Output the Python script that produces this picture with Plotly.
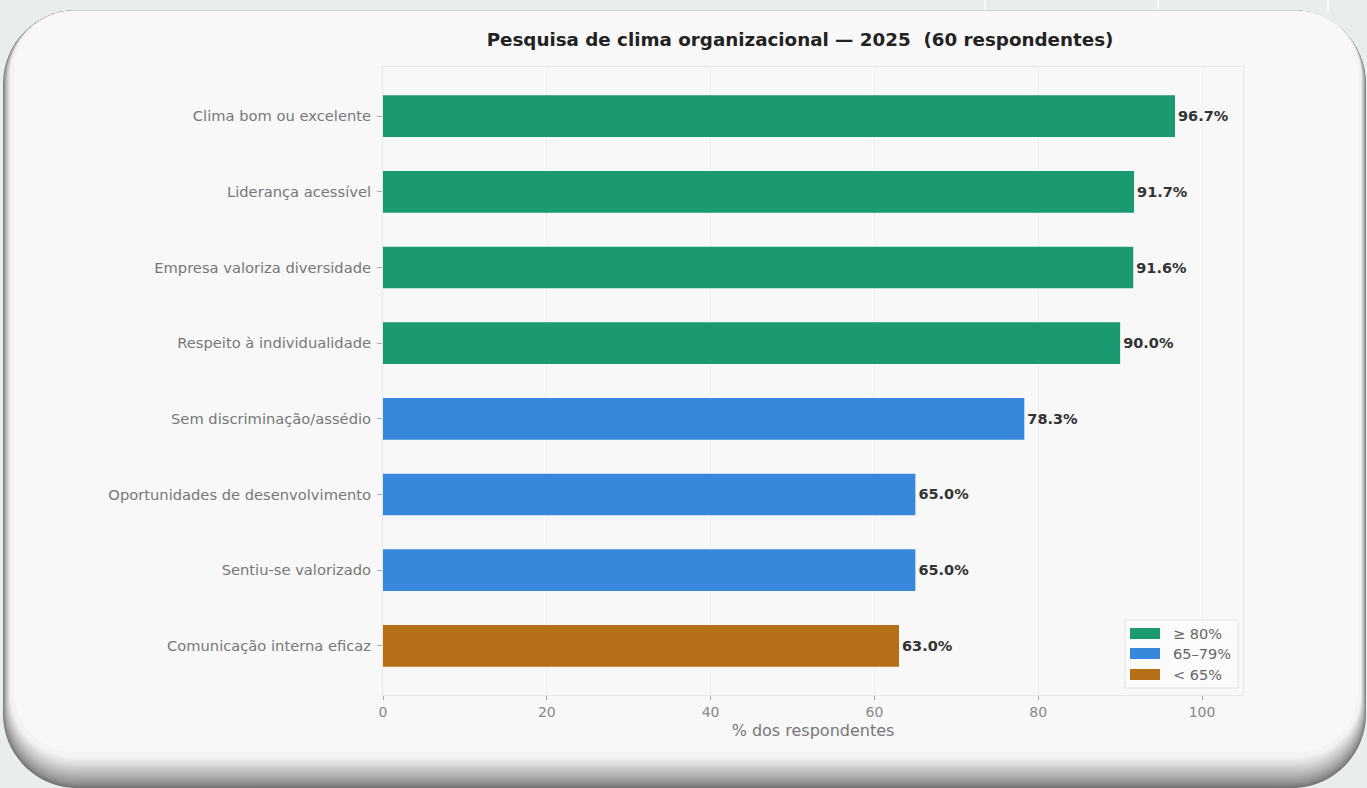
import plotly.graph_objects as go

# ---- data -------------------------------------------------------------
categories = [
    "Clima bom ou excelente",
    "Liderança acessível",
    "Empresa valoriza diversidade",
    "Respeito à individualidade",
    "Sem discriminação/assédio",
    "Oportunidades de desenvolvimento",
    "Sentiu-se valorizado",
    "Comunicação interna eficaz",
]
values = [96.7, 91.7, 91.6, 90.0, 78.3, 65.0, 65.0, 63.0]

group_labels = ["≥ 80%", "65–79%", "< 65%"]
group_colors = ["#1b9a71", "#3787dc", "#b56f16"]
x_ticks = [0, 20, 40, 60, 80, 100]

title_text = "Pesquisa de clima organizacional — 2025  (60 respondentes)"
x_title = "% dos respondentes"


def group_of(v):
    if v >= 80:
        return 0
    if v >= 65:
        return 1
    return 2


# ---- page geometry ----------------------------------------------------
W, H = 1367, 788
ML, MR, MT, MB = 383, 124, 67, 93
PW, PH = W - ML - MR, H - MT - MB
FONT = "DejaVu Sans"


def fx(px):
    return (px - ML) / PW


def fy(py):
    return (H - MB - py) / PH


def rounded_rect(x0, y0, x1, y1, r):
    k = 0.5523 * r
    pts = [
        f"M{fx(x0 + r)},{fy(y0)}",
        f"L{fx(x1 - r)},{fy(y0)}",
        f"C{fx(x1 - r + k)},{fy(y0)} {fx(x1)},{fy(y0 + r - k)} {fx(x1)},{fy(y0 + r)}",
        f"L{fx(x1)},{fy(y1 - r)}",
        f"C{fx(x1)},{fy(y1 - r + k)} {fx(x1 - r + k)},{fy(y1)} {fx(x1 - r)},{fy(y1)}",
        f"L{fx(x0 + r)},{fy(y1)}",
        f"C{fx(x0 + r - k)},{fy(y1)} {fx(x0)},{fy(y1 - r + k)} {fx(x0)},{fy(y1 - r)}",
        f"L{fx(x0)},{fy(y0 + r)}",
        f"C{fx(x0)},{fy(y0 + r - k)} {fx(x0 + r - k)},{fy(y0)} {fx(x0 + r)},{fy(y0)}",
    ]
    return " ".join(pts) + " Z"


def mix(c0, c1, t):
    a = [int(c0[i:i + 2], 16) for i in (1, 3, 5)]
    b = [int(c1[i:i + 2], 16) for i in (1, 3, 5)]
    return "#" + "".join(f"{round(a[i] + (b[i] - a[i]) * t):02x}" for i in range(3))


shapes = []

# faint decorative lines on the page background
for lx in [985, 1158, 1328]:
    shapes.append(dict(type="line", xref="paper", yref="paper", layer="below",
                       x0=fx(lx), x1=fx(lx), y0=fy(0), y1=fy(14),
                       line=dict(color="#f7f9fa", width=2)))

# card with a soft graded shadow underneath
n_steps = 14
for i in range(n_steps):
    t = i / (n_steps - 1)
    x0 = 3 + 7 * t
    x1 = 1366 - 5 * t
    y0 = 10 + 1 * t
    y1 = 788 - 30 * t
    r = 74 - 10 * t
    col = mix("#76787a", "#f3f3f3", t ** 0.8)
    shapes.append(dict(type="path", xref="paper", yref="paper", layer="below",
                       path=rounded_rect(x0, y0, x1, y1, r),
                       fillcolor=col, line=dict(width=0)))
shapes.append(dict(type="path", xref="paper", yref="paper", layer="below",
                   path=rounded_rect(14, 11, 1358, 752, 60),
                   fillcolor="#f8f8f8", line=dict(width=0)))

# custom legend box with wide patches
leg_x0, leg_y0, leg_x1, leg_y1 = 1125, 620, 1238, 688
shapes.append(dict(type="rect", xref="paper", yref="paper", layer="above",
                   x0=fx(leg_x0), x1=fx(leg_x1), y0=fy(leg_y1), y1=fy(leg_y0),
                   fillcolor="rgba(252,252,252,0.85)",
                   line=dict(color="#e2e2e2", width=1)))

annotations = []
patch_tops = [628, 648, 669]
for top, lab, col in zip(patch_tops, group_labels, group_colors):
    shapes.append(dict(type="rect", xref="paper", yref="paper", layer="above",
                       x0=fx(1130), x1=fx(1160), y0=fy(top + 11), y1=fy(top),
                       fillcolor=col, line=dict(width=0)))
    annotations.append(dict(xref="paper", yref="paper", x=fx(1171), y=fy(top + 5.5),
                            text=lab, showarrow=False, xanchor="left", yanchor="middle",
                            font=dict(family=FONT, size=14.5, color="#666666")))

# ---- bars -------------------------------------------------------------
fig = go.Figure()
for g, (lab, col) in enumerate(zip(group_labels, group_colors)):
    ys = [c for c, v in zip(categories, values) if group_of(v) == g]
    xs = [v for v in values if group_of(v) == g]
    fig.add_trace(go.Bar(
        y=ys, x=xs, orientation="h", name=lab,
        marker=dict(color=col, line=dict(width=0)),
        width=0.55,
        text=[f"{v:.1f}%" for v in xs],
        texttemplate="<b>%{text}</b>",
        textposition="outside",
        constraintext="none",
        cliponaxis=False,
        textfont=dict(family=FONT, size=14.5, color="#333333"),
        showlegend=False,
    ))

fig.update_layout(
    width=W, height=H,
    margin=dict(l=ML, r=MR, t=MT, b=MB, pad=0),
    paper_bgcolor="#eaedee",
    plot_bgcolor="#fbfbfb",
    barmode="overlay",
    shapes=shapes,
    annotations=annotations,
    title=dict(text=f"<b>{title_text}</b>", x=800 / W, xanchor="center",
               y=1 - 40 / H, yanchor="middle",
               font=dict(family=FONT, size=18.3, color="#222222")),
    font=dict(family=FONT),
)

fig.update_xaxes(
    range=[0, 105],
    tickvals=x_ticks,
    ticks="outside", ticklen=4, tickcolor="#aaaaaa",
    tickfont=dict(family=FONT, size=14, color="#888888"),
    showgrid=True, gridcolor="#f0f0f0", gridwidth=1,
    zeroline=False,
    showline=True, mirror=True, linecolor="#e6e6e6", linewidth=1,
    title=dict(text=x_title, font=dict(family=FONT, size=16, color="#777777"), standoff=6),
)
fig.update_yaxes(
    categoryorder="array", categoryarray=categories,
    range=[7.65, -0.65],
    ticks="outside", ticklen=5, tickcolor="#aaaaaa",
    ticklabelstandoff=3,
    tickfont=dict(family=FONT, size=14.7, color="#777777"),
    showgrid=False, zeroline=False,
    showline=True, mirror=True, linecolor="#e6e6e6", linewidth=1,
)

fig.write_html("out.html")
